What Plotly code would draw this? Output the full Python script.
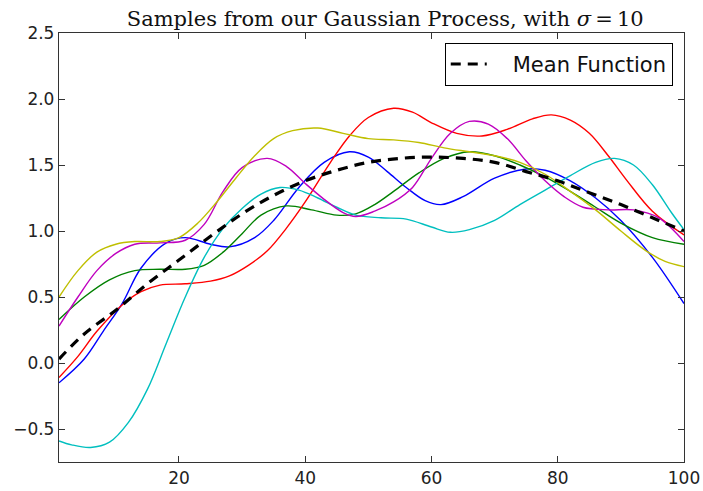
import plotly.graph_objects as go

# ---- data ----
blue_x = [1, 5, 8, 11, 14, 18, 21, 25, 28, 32, 35, 39, 43, 47, 50, 53, 56, 59, 61.5, 65, 70, 75, 78, 82, 86, 90, 95, 100]
blue_y = [-0.15, 0.03, 0.24, 0.45, 0.72, 0.91, 0.95, 0.9, 0.88, 0.95, 1.08, 1.33, 1.52, 1.60, 1.56, 1.45, 1.33, 1.23, 1.2, 1.26, 1.40, 1.47, 1.46, 1.38, 1.25, 1.08, 0.8, 0.45]

green_x = [1, 5, 9, 13, 17, 21, 24, 27, 30, 33, 37, 41, 45, 48, 51, 54, 58, 62, 66, 70, 74, 78, 82, 86, 90, 95, 100]
green_y = [0.33, 0.5, 0.63, 0.7, 0.71, 0.71, 0.74, 0.84, 0.98, 1.12, 1.19, 1.16, 1.12, 1.13, 1.2, 1.3, 1.44, 1.55, 1.6, 1.57, 1.5, 1.41, 1.3, 1.18, 1.06, 0.95, 0.9]

red_x = [1, 4, 7, 11, 14, 17, 21, 25, 28, 31, 34, 37, 40, 44, 47, 50, 54, 57, 60, 64, 68, 72, 76, 79, 82, 85, 88, 91, 95, 100]
red_y = [-0.11, 0.05, 0.24, 0.44, 0.54, 0.59, 0.6, 0.62, 0.66, 0.74, 0.85, 1.02, 1.22, 1.52, 1.72, 1.86, 1.93, 1.9, 1.82, 1.74, 1.72, 1.77, 1.85, 1.88, 1.84, 1.74, 1.57, 1.38, 1.15, 0.97]

cyan_x = [1, 3, 6, 9, 12, 15, 18, 21, 24, 27, 30, 33, 36, 39, 42, 45, 48, 52, 56, 60, 63, 66, 70, 74, 78, 82, 86, 89, 92, 95, 98, 100]
cyan_y = [-0.59, -0.62, -0.64, -0.6, -0.45, -0.2, 0.15, 0.5, 0.8, 1.02, 1.17, 1.28, 1.33, 1.31, 1.25, 1.18, 1.12, 1.1, 1.09, 1.03, 0.99, 1.01, 1.08, 1.2, 1.31, 1.42, 1.52, 1.55, 1.5, 1.35, 1.14, 1.01]

magenta_x = [1, 4, 7, 10, 13, 17, 21, 24, 27, 30, 34, 37, 40, 43, 46, 48, 51, 54, 57, 60, 63, 66, 69, 72, 75, 78, 81, 84, 88, 92, 96, 100]
magenta_y = [0.28, 0.5, 0.7, 0.83, 0.9, 0.91, 0.93, 1.05, 1.3, 1.48, 1.55, 1.49, 1.36, 1.24, 1.14, 1.11, 1.15, 1.22, 1.33, 1.55, 1.74, 1.83, 1.81, 1.7, 1.53, 1.38, 1.26, 1.18, 1.16, 1.16, 1.1, 0.92]

yellow_x = [1, 4, 7, 10, 13, 17, 20, 23, 26, 29, 32, 35, 38, 42, 46, 50, 54, 58, 62, 66, 70, 74, 78, 82, 86, 90, 94, 97, 100]
yellow_y = [0.5, 0.7, 0.84, 0.9, 0.92, 0.92, 0.95, 1.06, 1.22, 1.4, 1.57, 1.7, 1.76, 1.78, 1.74, 1.7, 1.69, 1.67, 1.63, 1.6, 1.57, 1.52, 1.43, 1.3, 1.16, 1.0, 0.85, 0.77, 0.73]

mean_x = [1, 5, 10, 15, 20, 25, 30, 35, 40, 45, 50, 55, 60, 65, 70, 75, 80, 85, 90, 95, 100]
mean_y = [0.03, 0.22, 0.4, 0.6, 0.78, 0.96, 1.13, 1.27, 1.38, 1.46, 1.52, 1.55, 1.56, 1.55, 1.52, 1.45, 1.38, 1.29, 1.2, 1.1, 1.0]

x_ticks = [20, 40, 60, 80, 100]
y_ticks = [-0.5, 0.0, 0.5, 1.0, 1.5, 2.0, 2.5]

samples = [
    (blue_x, blue_y, "#0000ff"),
    (green_x, green_y, "#008000"),
    (red_x, red_y, "#ff0000"),
    (cyan_x, cyan_y, "#00bfbf"),
    (magenta_x, magenta_y, "#bf00bf"),
    (yellow_x, yellow_y, "#bfbf00"),
]

fig = go.Figure()
for xs, ys, col in samples:
    fig.add_trace(go.Scatter(x=xs, y=ys, mode="lines", showlegend=False,
                             line=dict(color=col, width=1.4, shape="spline", smoothing=1.0)))

fig.add_trace(go.Scatter(x=mean_x, y=mean_y, mode="lines", name="\u2003Mean Function",
                         line=dict(color="black", width=3.2, dash="10px,7px",
                                   shape="spline", smoothing=1.0)))

axis_common = dict(showline=True, linecolor="#333333", linewidth=1.3, mirror="ticks",
                   ticks="inside", ticklen=6, tickcolor="#333333", tickwidth=1,
                   showgrid=False, zeroline=False, automargin=False,
                   tickfont=dict(family="DejaVu Sans", size=17, color="#222222"))

fig.update_xaxes(range=[1, 100], tickvals=x_ticks, **axis_common)
fig.update_yaxes(range=[-0.75, 2.5], tickvals=y_ticks, tickformat=".1f", **axis_common)

fig.update_layout(
    width=703, height=491,
    margin=dict(l=59, r=19, t=33, b=29),
    plot_bgcolor="white", paper_bgcolor="white",
    title=dict(text="Samples from our Gaussian Process, with <i>σ</i>\u2009=\u200910",
               font=dict(family="DejaVu Serif", size=21, color="#111111"),
               x=0.548, xanchor="center", xref="container",
               y=0.963, yanchor="middle", automargin=False),
    legend=dict(x=0.982, y=0.977, xanchor="right", yanchor="top",
                bordercolor="black", borderwidth=1, bgcolor="white",
                itemwidth=36,
                font=dict(family="DejaVu Sans", size=21, color="#111111")),
    showlegend=True,
)

fig.write_html("out.html")
